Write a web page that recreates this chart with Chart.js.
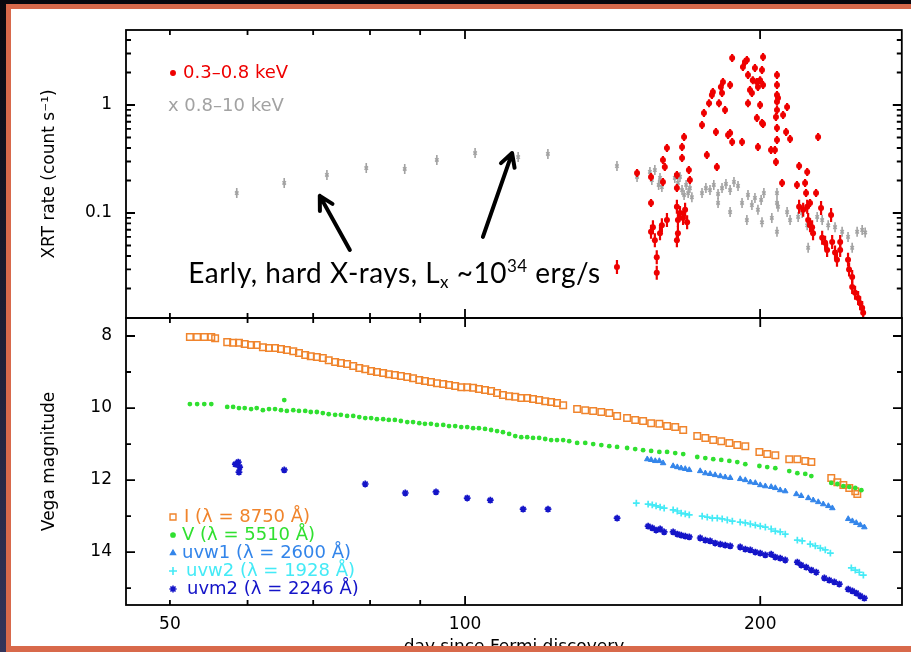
<!DOCTYPE html>
<html>
<head>
<meta charset="utf-8">
<script src="https://cdn.jsdelivr.net/npm/chart.js@4.4.1/dist/chart.umd.min.js"></script>
<style>
  html, body { margin: 0; padding: 0; background: #000; overflow: hidden; }
  #slide { position: absolute; left: 0; top: 0; width: 911px; height: 652px; overflow: hidden;
           background: linear-gradient(#08080e, #34345a); }
  #paper { position: absolute; left: 11px; top: 9px; width: 900px; height: 640px; background: #fff; }
  canvas { position: absolute; left: 0; }
  #xrt { top: 0; }
  #opt { top: 300px; }
  .edge { position: absolute; background: #d8694b; z-index: 5; }
</style>
</head>
<body>
<div id="slide">
  <div id="paper"></div>
  <canvas id="xrt" width="911" height="330"></canvas>
  <canvas id="opt" width="911" height="352"></canvas>
  <div class="edge" style="left:6px;top:4px;width:905px;height:5px"></div>
  <div class="edge" style="left:6px;top:4px;width:5px;height:648px"></div>
  <div class="edge" style="left:6px;top:646px;width:905px;height:6px"></div>
</div>
<script>
// ---- data: [day since Fermi discovery, value] ----
const softXrt = [ // 0.3-0.8 keV, count/s
  [142.9,0.0316],[149.8,0.235],[154.8,0.216],[154.8,0.124],[154.8,0.067],[155.5,0.074],[156.2,0.056],[156.9,0.039],
  [156.9,0.028],[158.1,0.065],[158.8,0.077],[159.2,0.31],[159.9,0.267],[160.7,0.40],[159.2,0.194],[160.7,0.086],
  [164.5,0.225],[164.5,0.17],[164.5,0.114],[164.9,0.086],[164.9,0.065],[164.5,0.056],[166.5,0.323],[166.5,0.409],
  [167.3,0.505],[165.7,0.10],[166.9,0.09],[167.7,0.107],[169.2,0.25],[169.6,0.202],[168.5,0.082],[174.5,0.653],
  [175.3,0.843],[176.5,0.345],[177.4,1.04],[178.6,1.24],[179.0,1.32],[180.3,0.563],[180.7,0.267],[181.6,1.04],
  [182.4,1.47],[182.9,1.29],[183.3,1.63],[184.2,0.90],[185.5,0.527],[186.4,0.551],[186.4,1.53],[187.3,2.72],
  [187.3,0.454],[191.7,0.454],[192.1,2.25],[193.0,2.50],[193.9,2.61],[194.4,1.90],[195.3,1.38],[196.2,1.29],
  [196.6,1.70],[197.6,2.20],[198.5,1.63],[199.0,1.47],[200.0,1.70],[194.4,1.04],[198.5,0.758],[199.0,0.409],
  [200.0,1.0],[200.9,0.681],[201.4,0.667],[200.9,2.11],[201.4,2.78],[201.4,1.53],[205.2,0.383],[207.1,0.383],
  [207.6,0.296],[208.1,1.90],[208.1,1.53],[208.1,1.24],[208.1,1.07],[208.1,0.90],[207.6,0.774],[208.1,0.612],
  [208.1,0.474],[208.6,1.16],[210.6,0.19],[211.1,0.808],[213.1,0.958],[212.6,0.563],[214.6,0.485],[218.1,0.182],
  [219.2,0.272],[219.2,0.114],[221.3,0.107],[222.3,0.19],[222.8,0.153],[223.4,0.24],[223.4,0.114],[223.9,0.086],
  [224.9,0.077],[226.0,0.074],[226.5,0.065],[228.1,0.153],[224.9,0.124],[229.2,0.505],[230.8,0.111],[231.4,0.059],
  [233.0,0.053],[234.1,0.0455],[236.3,0.096],[236.9,0.054],[238.5,0.043],[239.6,0.037],[241.4,0.054],[241.4,0.0455],
  [245.9,0.037],[246.5,0.030],[248.3,0.0256],[248.3,0.0206],[250.0,0.0183],[251.8,0.0163],[253.0,0.0146],
  [254.2,0.0132],[254.8,0.0119]
];
const hardXrt = [ // 0.8-10 keV, count/s
  [58.5,0.153],[65.4,0.19],[72.3,0.225],[79.3,0.261],[86.8,0.256],[93.6,0.31],[102.4,0.359],[113.3,0.33],
  [121.5,0.352],[142.9,0.272],[149.8,0.216],[154.4,0.24],[155.1,0.202],[156.2,0.25],[157.6,0.182],[158.1,0.211],
  [158.8,0.174],[163.7,0.211],[164.9,0.19],[165.7,0.216],[166.5,0.163],[167.3,0.147],[168.1,0.182],[168.9,0.153],
  [169.6,0.17],[170.4,0.14],[174.5,0.153],[176.1,0.17],[177.8,0.163],[179.4,0.182],[181.2,0.15],[182.9,0.17],
  [184.6,0.186],[186.4,0.163],[188.1,0.194],[189.9,0.178],[181.2,0.124],[186.4,0.102],[191.7,0.124],[193.9,0.086],
  [194.4,0.147],[196.2,0.1185],[197.6,0.138],[199.0,0.107],[200.5,0.132],[201.8,0.153],[200.9,0.082],[205.6,0.09],
  [208.1,0.153],[208.1,0.124],[208.6,0.114],[208.1,0.067],[213.1,0.102],[214.6,0.086],[218.7,0.092],[220.8,0.10],
  [223.4,0.077],[223.9,0.0476],[228.7,0.092],[231.4,0.086],[234.7,0.077],[238.5,0.074],[242.5,0.067],[245.9,0.06],
  [248.3,0.0476],[251.2,0.067],[254.2,0.0696],[256.0,0.066]
];
const magI = [
  [52.4,8.03],[53.3,8.03],[54.2,8.03],[55.1,8.03],[55.6,8.06],[57.2,8.17],[58.0,8.19],[58.8,8.19],[59.6,8.22],
  [60.5,8.25],[61.3,8.25],[62.2,8.31],[63.1,8.33],[64.0,8.33],[64.9,8.36],[65.8,8.39],[66.8,8.42],[67.7,8.47],
  [68.7,8.53],[69.6,8.56],[70.6,8.58],[71.6,8.61],[72.6,8.67],[73.7,8.72],[74.7,8.75],[75.8,8.78],[76.9,8.83],
  [78.0,8.89],[79.1,8.92],[80.2,8.97],[81.3,9.0],[82.5,9.03],[83.6,9.06],[84.8,9.08],[86.0,9.11],[87.3,9.14],
  [88.5,9.17],[89.8,9.22],[91.0,9.25],[92.3,9.28],[93.6,9.31],[95.0,9.33],[96.3,9.36],[97.7,9.39],[99.1,9.42],
  [100.5,9.42],[101.9,9.44],[103.3,9.47],[104.8,9.5],[106.3,9.53],[107.8,9.58],[109.3,9.64],[110.9,9.67],
  [112.5,9.69],[114.1,9.72],[115.7,9.72],[117.3,9.75],[119.0,9.78],[120.7,9.81],[122.4,9.83],[124.1,9.86],
  [125.9,9.92],[130.1,10.03],[132.6,10.06],[135.1,10.08],[137.7,10.11],[140.3,10.14],[142.9,10.22],[146.3,10.28],
  [149.1,10.33],[151.9,10.36],[154.8,10.42],[157.8,10.44],[160.7,10.5],[163.8,10.53],[166.9,10.61],[172.5,10.78],
  [175.8,10.83],[179.1,10.89],[182.5,10.92],[186.0,10.97],[189.5,11.03],[193.1,11.06],[199.6,11.22],[203.3,11.28],
  [207.2,11.31],[214.1,11.42],[218.2,11.42],[222.3,11.47],[225.5,11.5],[236.3,11.94],[239.7,12.06],[243.1,12.14],
  [246.5,12.22],[250.0,12.31],[251.2,12.39]
];
const magV = [
  [52.4,9.89],[53.3,9.89],[54.2,9.89],[55.1,9.89],[57.2,9.97],[58.0,9.97],[58.8,10.0],[59.6,10.0],[60.5,10.03],
  [61.3,10.0],[62.2,10.06],[63.1,10.03],[64.0,10.03],[64.9,10.06],[65.4,9.78],[65.8,10.08],[66.8,10.06],
  [67.7,10.08],[68.7,10.08],[69.6,10.11],[70.6,10.11],[71.6,10.14],[72.6,10.17],[73.7,10.19],[74.7,10.19],
  [75.8,10.22],[76.9,10.22],[78.0,10.25],[79.1,10.28],[80.2,10.28],[81.3,10.31],[82.5,10.31],[83.6,10.33],
  [84.8,10.33],[86.0,10.36],[87.3,10.39],[88.5,10.39],[89.8,10.42],[91.0,10.44],[92.3,10.44],[93.6,10.47],
  [95.0,10.47],[96.3,10.5],[97.7,10.5],[99.1,10.53],[100.5,10.53],[101.9,10.56],[103.3,10.56],[104.8,10.58],
  [106.3,10.61],[107.8,10.64],[109.3,10.67],[110.9,10.72],[112.5,10.78],[114.1,10.81],[115.7,10.81],[117.3,10.83],
  [119.0,10.83],[120.7,10.86],[122.4,10.89],[124.1,10.89],[125.9,10.89],[127.7,10.92],[130.1,10.97],[132.6,10.97],
  [135.1,11.0],[137.7,11.03],[140.3,11.06],[142.9,11.08],[146.3,11.11],[149.1,11.14],[151.9,11.17],[154.8,11.19],
  [157.8,11.22],[160.7,11.22],[163.8,11.25],[166.9,11.28],[172.5,11.36],[175.8,11.39],[179.1,11.42],[182.5,11.44],
  [186.0,11.47],[189.5,11.5],[193.1,11.56],[199.6,11.61],[203.3,11.64],[207.2,11.67],[214.1,11.75],[218.2,11.81],
  [222.3,11.83],[225.5,11.89],[236.3,12.08],[239.7,12.11],[243.1,12.17],[246.5,12.19],[250.0,12.22],[253.6,12.28]
];
const magUvw1 = [
  [153.4,11.42],[154.8,11.44],[156.3,11.47],[157.8,11.47],[159.2,11.53],[163.0,11.61],[164.6,11.64],[166.1,11.67],
  [167.7,11.69],[169.3,11.72],[173.7,11.75],[175.8,11.81],[177.8,11.83],[179.9,11.86],[182.1,11.89],[184.2,11.92],
  [186.4,11.94],[190.8,11.97],[193.1,12.0],[195.4,12.06],[197.7,12.08],[200.0,12.14],[202.4,12.17],[205.2,12.19],
  [207.2,12.22],[209.6,12.28],[212.1,12.31],[217.7,12.39],[220.2,12.44],[223.9,12.5],[226.5,12.56],[229.2,12.61],
  [231.9,12.67],[234.7,12.72],[236.9,12.78],[245.9,13.08],[248.3,13.14],[250.6,13.19],[253.0,13.25],[255.4,13.31]
];
const magUvw2 = [
  [149.5,12.64],[153.7,12.67],[155.2,12.69],[156.6,12.72],[158.1,12.75],[159.6,12.78],[163.0,12.83],[164.6,12.86],
  [166.1,12.92],[167.7,12.94],[169.3,12.97],[174.5,13.0],[176.6,13.03],[178.7,13.06],[180.8,13.06],[182.9,13.08],
  [185.1,13.11],[187.3,13.14],[190.8,13.17],[193.1,13.19],[195.4,13.22],[197.7,13.25],[200.0,13.28],[202.4,13.31],
  [205.2,13.36],[207.2,13.42],[209.6,13.44],[212.1,13.5],[218.2,13.67],[220.7,13.69],[224.9,13.78],[227.6,13.83],
  [230.3,13.89],[233.0,13.94],[235.8,14.03],[247.7,14.44],[250.0,14.5],[252.4,14.56],[254.8,14.64]
];
const magUvm2 = [
  [58.3,11.56],[58.7,11.5],[58.9,11.64],[58.8,11.78],[65.4,11.72],[79.1,12.11],[86.9,12.36],[93.4,12.33],
  [100.5,12.5],[106.1,12.56],[114.6,12.81],[121.5,12.81],[142.9,13.06],
  [153.7,13.28],[155.2,13.33],[156.6,13.39],[158.1,13.36],[159.6,13.44],[163.0,13.44],[164.6,13.5],[166.1,13.53],
  [167.7,13.56],[169.3,13.58],[173.7,13.61],[175.8,13.67],[177.8,13.69],[179.9,13.75],[182.1,13.78],[184.2,13.81],
  [186.4,13.83],[190.8,13.86],[193.1,13.92],[195.4,13.94],[197.7,14.0],[200.0,14.03],[202.4,14.08],[205.2,14.06],
  [207.2,14.14],[209.6,14.17],[212.1,14.22],[218.2,14.28],[220.2,14.36],[222.8,14.42],[225.5,14.5],[228.1,14.56],
  [232.5,14.72],[235.2,14.78],[238.0,14.83],[240.8,14.89],[245.9,15.03],[248.3,15.08],[250.6,15.14],[253.0,15.22],
  [255.4,15.28]
];

// ---- axes ----
const dayTicks = [50, 60, 70, 80, 90, 100, 200];
const dayLongTicks = [100, 200];
const dayLabels = [50, 100, 200];
const rateTicks = [0.02,0.03,0.04,0.05,0.06,0.07,0.08,0.09,0.1,0.2,0.3,0.4,0.5,0.6,0.7,0.8,0.9,1,2,3,4];
const rateLabels = [0.1, 1];
const magTicks = [8, 9, 10, 11, 12, 13, 14, 15];
const magLabels = [8, 10, 12, 14];

const RED = '#ee0000', GREY = '#a2a2a2', ORANGE = '#f0842c', GREEN = '#30e030',
      BLUE1 = '#3385ea', CYAN = '#44eaf6', NAVY = '#1414c8';
const FONT = 'DejaVu Sans';
const pts = a => a.map(p => ({x: p[0], y: p[1]}));

// box with inward ticks and tick labels, PGPLOT style
const framePlugin = {
  id: 'frame',
  afterDatasetsDraw(chart, args, o) {
    const {ctx, chartArea: a, scales: {x, y}} = chart;
    ctx.save();
    ctx.strokeStyle = '#000';
    ctx.lineWidth = 1.8;
    ctx.strokeRect(a.left, a.top, a.width, a.height);
    ctx.beginPath();
    dayTicks.forEach(v => {
      const p = x.getPixelForValue(v), len = dayLongTicks.includes(v) ? 9 : 5;
      ctx.moveTo(p, a.top); ctx.lineTo(p, a.top + len);
      ctx.moveTo(p, a.bottom); ctx.lineTo(p, a.bottom - len);
    });
    o.yTicks.forEach(v => {
      const p = y.getPixelForValue(v), len = o.yLabels.includes(v) ? 9 : 5;
      ctx.moveTo(a.left, p); ctx.lineTo(a.left + len, p);
      ctx.moveTo(a.right, p); ctx.lineTo(a.right - len, p);
    });
    ctx.stroke();

    ctx.fillStyle = '#000';
    ctx.font = '17px ' + FONT;
    ctx.textAlign = 'right';
    ctx.textBaseline = 'middle';
    o.yLabels.forEach(v => ctx.fillText(String(v), a.left - 14, y.getPixelForValue(v)));
    if (o.xTitle) {
      ctx.textAlign = 'center';
      dayLabels.forEach(v => ctx.fillText(String(v), x.getPixelForValue(v), a.bottom + 20));
      ctx.fillText(o.xTitle, (a.left + a.right) / 2, a.bottom + 43);
    }
    ctx.restore();
  }
};

// key drawn inside the panel
const keyPlugin = {
  id: 'key',
  afterDraw(chart, args, o) {
    const {ctx, chartArea: a} = chart;
    ctx.save();
    ctx.textBaseline = 'middle';
    ctx.font = '18px ' + FONT;
    o.items.forEach(it => {
      const yy = it.fromBottom ? a.bottom - it.dy : a.top + it.dy;
      if (it.marker) {
        ctx.fillStyle = it.marker.hollow ? 'rgba(0,0,0,0)' : it.color;
        ctx.strokeStyle = it.color;
        ctx.lineWidth = it.marker.borderWidth || 1.3;
        Chart.helpers.drawPoint(ctx, Object.assign({borderWidth: 1.3, rotation: 0}, it.marker), a.left + 47, yy);
      }
      ctx.fillStyle = it.color;
      ctx.fillText(it.text, a.left + it.tx, yy);
    });
    ctx.restore();
  }
};

// arrows and the note in the X-ray panel, anchored in data space
const notePlugin = {
  id: 'note',
  afterDraw(chart, args, o) {
    if (!o.arrows) return;
    const {ctx, scales: {x, y}} = chart;
    ctx.save();
    ctx.strokeStyle = '#000';
    ctx.fillStyle = '#000';
    ctx.lineWidth = 4;
    ctx.lineCap = 'round';
    ctx.lineJoin = 'round';
    o.arrows.forEach(ar => {
      const x0 = x.getPixelForValue(ar[0]), y0 = y.getPixelForValue(ar[1]);
      const x1 = x.getPixelForValue(ar[2]), y1 = y.getPixelForValue(ar[3]);
      const ang = Math.atan2(y1 - y0, x1 - x0);
      ctx.beginPath();
      ctx.moveTo(x0, y0); ctx.lineTo(x1, y1);
      ctx.moveTo(x1 - 15 * Math.cos(ang - 0.5), y1 - 15 * Math.sin(ang - 0.5));
      ctx.lineTo(x1, y1);
      ctx.lineTo(x1 - 15 * Math.cos(ang + 0.5), y1 - 15 * Math.sin(ang + 0.5));
      ctx.stroke();
    });
    let tx = x.getPixelForValue(o.at[0]);
    const ty = y.getPixelForValue(o.at[1]);
    ctx.textBaseline = 'alphabetic';
    ctx.letterSpacing = '0.5px';
    o.parts.forEach(pt => {
      ctx.font = pt.size + 'px Lato';
      ctx.fillText(pt.t, tx, ty + pt.dy);
      tx += ctx.measureText(pt.t).width;
    });
    ctx.restore();
  }
};

Chart.register(framePlugin, keyPlugin, notePlugin);
Chart.defaults.font.family = FONT;
Chart.defaults.color = '#000';

const logDays = {type: 'logarithmic', min: 45.1, max: 279, display: false};
const leftAxis = {
  grid: {display: false}, border: {display: false},
  afterFit: s => { s.width = 126; },
  ticks: {display: false}
};

new Chart(document.getElementById('xrt'), {
  type: 'scatter',
  data: {
    datasets: [
      {data: pts(softXrt), pointStyle: 'circle', pointRadius: 3, pointBackgroundColor: RED,
       pointBorderColor: RED, pointBorderWidth: 0},
      {data: pts(softXrt), pointStyle: 'line', pointRotation: 90, pointBorderColor: RED, pointBorderWidth: 2.2,
       pointRadius: c => (c.raw && c.raw.y < 0.12) ? 7 : 4},
      {data: pts(hardXrt), pointStyle: 'crossRot', pointRadius: 2.4, pointBorderColor: GREY, pointBorderWidth: 1.6},
      {data: pts(hardXrt), pointStyle: 'line', pointRotation: 90, pointRadius: 5, pointBorderColor: GREY,
       pointBorderWidth: 1.6}
    ]
  },
  options: {
    responsive: false, animation: false, events: [],
    layout: {padding: {left: 0, right: 9, top: 30, bottom: 12}},
    scales: {
      x: logDays,
      y: Object.assign({}, leftAxis, {
        type: 'logarithmic', min: 0.01066, max: 4.95,
        title: {display: true, text: 'XRT rate (count s\u207B\u00B9)', font: {size: 17}, padding: {top: 39}}
      })
    },
    plugins: {
      legend: {display: false}, tooltip: {enabled: false},
      frame: {yTicks: rateTicks, yLabels: rateLabels},
      key: {items: [
        {dy: 43, tx: 57, color: RED, text: '0.3\u20130.8 keV',
         marker: {pointStyle: 'circle', radius: 2.3}},
        {dy: 76, tx: 42, color: GREY, text: 'x 0.8\u201310 keV'}
      ]},
      note: {
        arrows: [[76.3, 0.0455, 71.1, 0.144], [104.3, 0.060, 111.7, 0.359]],
        at: [52.2, 0.0225],
        parts: [
          {t: 'Early, hard X-rays, L', size: 28, dy: 0},
          {t: 'x', size: 17, dy: 5},
          {t: ' ~10', size: 28, dy: 0},
          {t: '34', size: 17, dy: -11},
          {t: ' erg/s', size: 28, dy: 0}
        ]
      }
    }
  }
});

new Chart(document.getElementById('opt'), {
  type: 'scatter',
  data: {
    datasets: [
      {data: pts(magV), pointStyle: 'circle', pointRadius: 2.4, pointBackgroundColor: GREEN,
       pointBorderColor: GREEN, pointBorderWidth: 0},
      {data: pts(magI), pointStyle: 'rect', pointRadius: 4.6, pointBackgroundColor: 'rgba(0,0,0,0)',
       pointBorderColor: ORANGE, pointBorderWidth: 1.5},
      {data: pts(magUvw1), pointStyle: 'triangle', pointRadius: 3.2, pointBackgroundColor: BLUE1,
       pointBorderColor: BLUE1, pointBorderWidth: 1},
      {data: pts(magUvw2), pointStyle: 'cross', pointRadius: 3.4, pointBorderColor: CYAN, pointBorderWidth: 1.7},
      {data: pts(magUvm2), pointStyle: 'star', pointRadius: 3.4, pointBorderColor: NAVY, pointBorderWidth: 1.7}
    ]
  },
  options: {
    responsive: false, animation: false, events: [],
    layout: {padding: {left: 0, right: 9, top: 18, bottom: 47}},
    scales: {
      x: logDays,
      y: Object.assign({}, leftAxis, {
        type: 'linear', reverse: true, min: 7.5, max: 15.47,
        title: {display: true, text: 'Vega magnitude', font: {size: 17}, padding: {top: 39}}
      })
    },
    plugins: {
      legend: {display: false}, tooltip: {enabled: false},
      frame: {yTicks: magTicks, yLabels: magLabels, xTitle: 'day since Fermi discovery'},
      key: {items: [
        {fromBottom: true, dy: 88, tx: 58, color: ORANGE, text: 'I (\u03BB = 8750 \u00C5)',
         marker: {pointStyle: 'rect', radius: 4.2, borderWidth: 1.4, hollow: true}},
        {fromBottom: true, dy: 70, tx: 56, color: GREEN, text: 'V (\u03BB = 5510 \u00C5)',
         marker: {pointStyle: 'circle', radius: 2.2}},
        {fromBottom: true, dy: 52, tx: 56, color: BLUE1, text: 'uvw1 (\u03BB = 2600 \u00C5)',
         marker: {pointStyle: 'triangle', radius: 3}},
        {fromBottom: true, dy: 34, tx: 60, color: CYAN, text: 'uvw2 (\u03BB = 1928 \u00C5)',
         marker: {pointStyle: 'cross', radius: 4, borderWidth: 1.6}},
        {fromBottom: true, dy: 16, tx: 61, color: NAVY, text: 'uvm2 (\u03BB = 2246 \u00C5)',
         marker: {pointStyle: 'star', radius: 3.6, borderWidth: 1.6, hollow: true}}
      ]}
    }
  }
});
</script>
</body>
</html>
